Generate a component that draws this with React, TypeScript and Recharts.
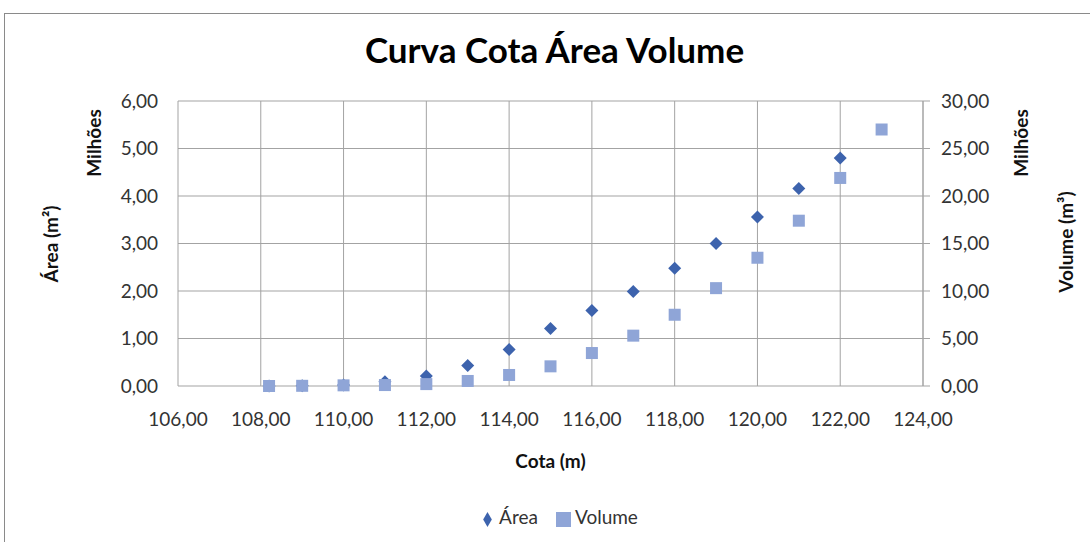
import React from "react"
import { CartesianGrid, Legend, Scatter, ScatterChart, XAxis, YAxis } from "recharts"

const cotaArea = [108.2, 109, 110, 111, 112, 113, 114, 115, 116, 117, 118, 119, 120, 121, 122]
const areaMilhoes = [0, 0.005, 0.02, 0.09, 0.21, 0.43, 0.77, 1.21, 1.59, 1.99, 2.48, 3.0, 3.56, 4.16, 4.8]
const cotaVolume = [108.2, 109, 110, 111, 112, 113, 114, 115, 116, 117, 118, 119, 120, 121, 122, 123]
const volumeMilhoes = [0, 0.02, 0.07, 0.1, 0.2, 0.53, 1.16, 2.07, 3.47, 5.3, 7.5, 10.3, 13.5, 17.4, 21.9, 27.0]

const xTicks = [106, 108, 110, 112, 114, 116, 118, 120, 122, 124]
const areaTicks = [0, 1, 2, 3, 4, 5, 6]
const volumeTicks = [0, 5, 10, 15, 20, 25, 30]
const legendOrder = ["Área", "Volume"]

const areaColor = "#3d63ad"
const volumeColor = "#8fa5d7"
const gridColor = "#a3a3a3"
const font = "Lato, 'Open Sans', sans-serif"

const areaData = cotaArea.map((cota, i) => ({ cota, area: areaMilhoes[i] }))
const volumeData = cotaVolume.map((cota, i) => ({ cota, volume: volumeMilhoes[i] }))

const fmt = (v: number) => v.toFixed(2).replace(".", ",")

const tickStyle = { fontSize: 19, fill: "#333", fontFamily: font }

function Diamond(props: any) {
  const { cx, cy } = props
  const r = 6.5
  return <polygon points={`${cx},${cy - r} ${cx + r},${cy} ${cx},${cy + r} ${cx - r},${cy}`} fill={areaColor} />
}

function Square(props: any) {
  const { cx, cy } = props
  const s = 12
  return <rect x={cx - s / 2} y={cy - s / 2} width={s} height={s} fill={volumeColor} />
}

function RotatedLabel({ text, x, y }: { text: React.ReactNode; x: number; y: number }) {
  return (
    <div
      style={{
        position: "absolute",
        left: x,
        top: y,
        transform: "translate(-50%, -50%) rotate(-90deg)",
        whiteSpace: "nowrap",
        fontFamily: font,
        fontWeight: 700,
        fontSize: 19,
        color: "#111",
      }}
    >
      {text}
    </div>
  )
}

export default function App() {
  return (
    <div style={{ position: "absolute", left: 0, top: 0, width: 1090, height: 542, overflow: "hidden", background: "#fff" }}>
      <div
        style={{
          position: "absolute",
          left: 4,
          top: 13,
          width: 1090,
          height: 540,
          borderTop: "1px solid #8a8a8a",
          borderLeft: "1px solid #8a8a8a",
        }}
      />
      <div
        style={{
          position: "absolute",
          left: 0,
          width: 1109,
          top: 28,
          textAlign: "center",
          fontFamily: font,
          fontWeight: 700,
          fontSize: 35,
          color: "#000",
        }}
      >
        Curva Cota Área Volume
      </div>
      <RotatedLabel text="Milhões" x={93} y={143} />
      <RotatedLabel text="Área (m²)" x={50} y={244} />
      <RotatedLabel text="Milhões" x={1020} y={143} />
      <RotatedLabel text="Volume (m³)" x={1065} y={242} />
      <div style={{ position: "absolute", left: 0, top: 0 }}>
        <ScatterChart width={1090} height={542} margin={{ top: 101, right: 0, bottom: 96, left: 0 }}>
          <CartesianGrid stroke={gridColor} yAxisId="left" />
          <XAxis
            type="number"
            dataKey="cota"
            domain={[106, 124]}
            ticks={xTicks}
            tickFormatter={fmt}
            axisLine={false}
            tickLine={false}
            tickSize={0}
            tickMargin={27}
            height={60}
            tick={tickStyle}
            label={{
              value: "Cota (m)",
              position: "bottom",
              offset: 9,
              style: { fontSize: 19, fontWeight: 700, fill: "#111", fontFamily: font },
            }}
          />
          <YAxis
            yAxisId="left"
            type="number"
            dataKey="area"
            domain={[0, 6]}
            ticks={areaTicks}
            tickFormatter={fmt}
            axisLine={false}
            tickLine={false}
            tickSize={0}
            tickMargin={20}
            width={178}
            tick={tickStyle}
          />
          <YAxis
            yAxisId="right"
            orientation="right"
            type="number"
            dataKey="volume"
            domain={[0, 30]}
            ticks={volumeTicks}
            tickFormatter={fmt}
            axisLine={{ stroke: gridColor }}
            tickLine={{ stroke: gridColor }}
            tickSize={7}
            tickMargin={11}
            width={167}
            tick={{ ...tickStyle, textAnchor: "start" }}
          />
          <Legend
            layout="horizontal"
            align="center"
            verticalAlign="middle"
            iconSize={15}
            itemSorter={(item: any) => legendOrder.indexOf(item.value)}
            wrapperStyle={{ top: 505, left: 19, fontFamily: font, fontSize: 19 }}
            formatter={(value: string) => (
              <span style={{ color: "#333", marginRight: value === "Área" ? 8 : 0 }}>{value}</span>
            )}
          />
          <Scatter
            name="Área"
            yAxisId="left"
            data={areaData}
            dataKey="area"
            fill={areaColor}
            legendType="diamond"
            shape={Diamond}
            isAnimationActive={false}
          />
          <Scatter
            name="Volume"
            yAxisId="right"
            data={volumeData}
            dataKey="volume"
            fill={volumeColor}
            legendType="square"
            shape={Square}
            isAnimationActive={false}
          />
        </ScatterChart>
      </div>
    </div>
  )
}
